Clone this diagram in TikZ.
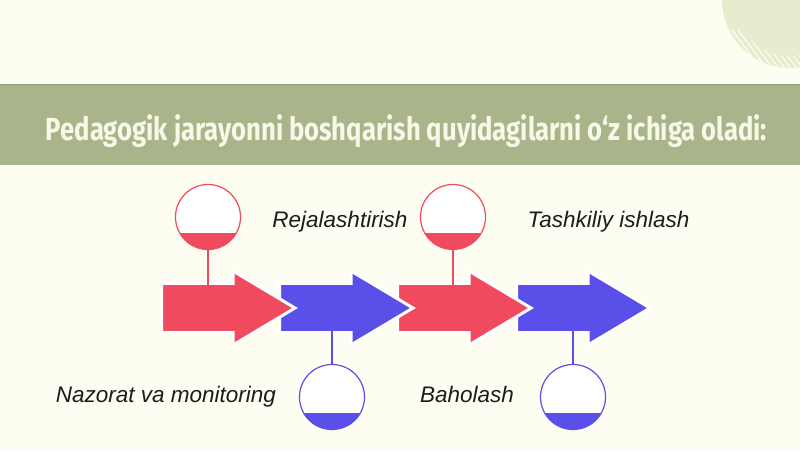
\documentclass[tikz,border=0pt]{standalone}
\usepackage{fontspec}
\setmainfont{Liberation Sans}
\newfontfamily\titlefont{Fira Sans}
\usepackage{graphicx}
\definecolor{bg}{HTML}{FDFDF1}
\definecolor{banner}{HTML}{A9B48B}
\definecolor{titletext}{HTML}{F8F8E8}
\definecolor{ared}{HTML}{EF4A5E}
\definecolor{ablue}{HTML}{5B4FE9}
\definecolor{deco}{HTML}{E5EDCE}
\definecolor{labeltext}{HTML}{1C1C1C}
\begin{document}
\begin{tikzpicture}[x=1pt,y=1pt,
  arrowbox/.style={line width=3pt,draw=white,line join=miter},
  disc/.style={circle,draw=#1,fill=white,line width=1.2pt,minimum size=65pt,inner sep=0pt,
    path picture={\fill[#1] (path picture bounding box.south west) rectangle ([yshift=-16pt]path picture bounding box.east);}},
  stem/.style={line width=1.2pt,draw=#1},
  lbl/.style={font=\fontsize{22.5}{24}\selectfont\itshape,text=labeltext,anchor=base,inner sep=0pt}]
\useasboundingbox (0,0) rectangle (800,450);
\fill[bg] (0,0) rectangle (800,450);
% decoration top right
\begin{scope}
  \clip (0,0) rectangle (800,450);
  \fill[deco] (790,450) circle (68);
  \begin{scope}[even odd rule]
    \clip (790,450) circle (68) (790,450) circle (56);
    \foreach \k in {0,...,14}{
      \draw[bg,line width=1.2pt] (720+\k*6,420) -- ++(30,-40);
    }
  \end{scope}
\end{scope}
% banner
\fill[banner] (0,285) rectangle (800,365);
\draw[banner!85!black,line width=1pt] (0,365) -- (800,365);
\node[anchor=base,inner sep=0pt,text=titletext] (title) at (406.5,309)
  {\resizebox{721pt}{\height}{\titlefont\bfseries\fontsize{32}{34}\selectfont Pedagogik jarayonni boshqarish quyidagilarni o‘z ichiga oladi:}};
% arrows (drawn last to first so each overlaps the next)
\foreach \L/\col/\n in {518/ablue/4,399/ared/3,281/ablue/2,163/ared/1}{
  \fill[\col,arrowbox] (\L-1.5,117.5) -- (\L+70,117.5) -- (\L+70,105) -- (\L+132,142)
     -- (\L+70,179) -- (\L+70,166.5) -- (\L-1.5,166.5) -- cycle;
}
\coordinate (a1top) at (208,165);
\coordinate (a2bot) at (332,119);
\coordinate (a3top) at (453,165);
\coordinate (a4bot) at (573,119);
% circles
\node[disc=ared] (c1) at (208,233) {};
\node[disc=ablue] (c2) at (332,53) {};
\node[disc=ared] (c3) at (453,233) {};
\node[disc=ablue] (c4) at (573,53) {};
\draw[stem=ared] (c1.south) -- (a1top);
\draw[stem=ablue] (c2.north) -- (a2bot);
\draw[stem=ared] (c3.south) -- (a3top);
\draw[stem=ablue] (c4.north) -- (a4bot);
% labels
\node[lbl] (l1) at (340,222) {Rejalashtirish};
\node[lbl] (l2) at (608.5,222) {Tashkiliy ishlash};
\node[lbl] (l3) at (166,48) {Nazorat va monitoring};
\node[lbl] (l4) at (467,48) {Baholash};
\end{tikzpicture}
\end{document}
